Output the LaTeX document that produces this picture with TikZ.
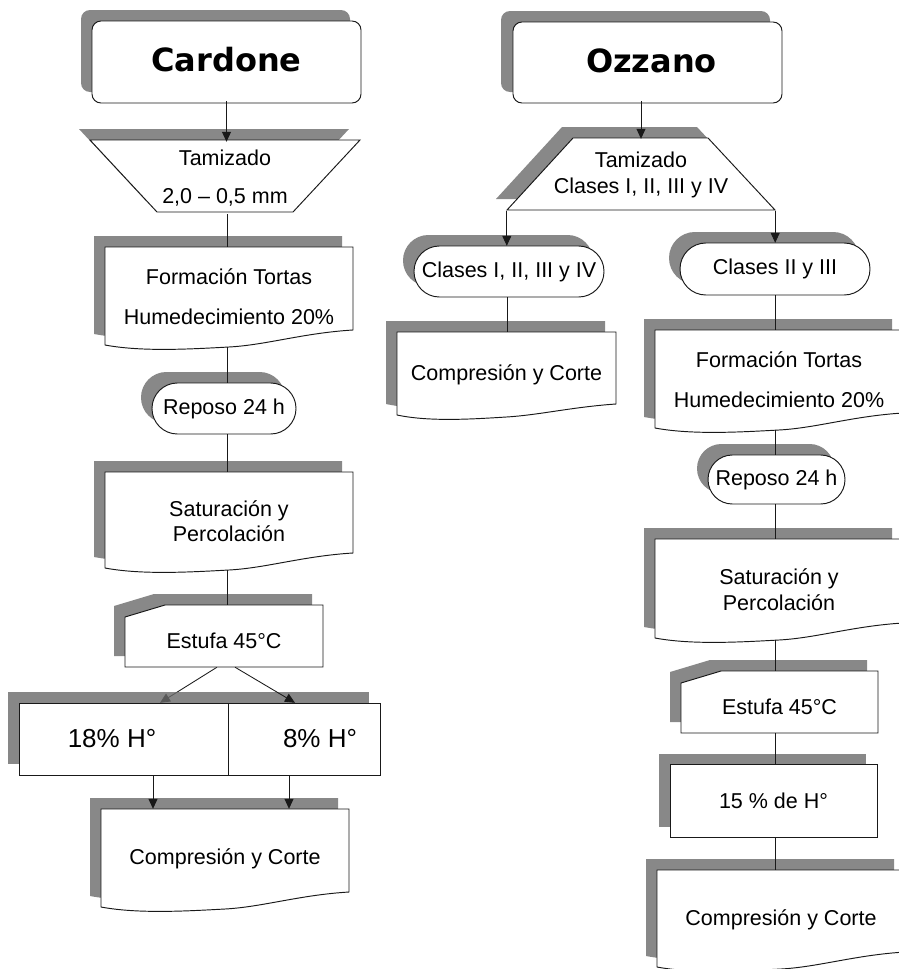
\documentclass[tikz,border=0pt]{standalone}
\usepackage{fontspec}
\setmainfont{Liberation Sans}
\newfontfamily\titlefont{DejaVu Sans}
\usetikzlibrary{arrows.meta}
\pgfdeclarelayer{under}\pgfdeclarelayer{bg}\pgfdeclarelayer{shp}
\pgfsetlayers{under,bg,shp,main}
\definecolor{shadowc}{RGB}{136,136,136}
\definecolor{shadowt}{RGB}{106,106,106}
\definecolor{linec}{RGB}{25,25,25}
\tikzset{
  shapeline/.style={draw=linec, line width=0.95pt, fill=white},
  conn/.style={draw=linec, line width=0.85pt},
  arr/.style={conn, -{Triangle[length=10pt,width=9pt]}},
  txt/.style={inner sep=0pt, align=center, shape=rectangle, font=\fontsize{21.5}{25.5}\selectfont},
  titletxt/.style={txt, font=\titlefont\bfseries\fontsize{32}{38}\selectfont},
  bigtxt/.style={txt, font=\fontsize{26}{30}\selectfont},
}
% document shape path: L T R Br Bl
\newcommand{\docpath}[5]{(#1,#2) -- (#3,#2) -- (#3,#4)
  .. controls ({#1+0.8*(#3-#1)},{#4+3}) and ({#1+0.65*(#3-#1)},{#5}) .. ({#1+0.5*(#3-#1)},{#5+2})
  .. controls ({#1+0.35*(#3-#1)},{#5+4}) and ({#1+0.15*(#3-#1)},{#5+7}) .. (#1,#5) -- cycle}
% name L T R Br Bl text
\newcommand{\DocBox}[7]{%
  \begin{pgfonlayer}{bg}\fill[shadowc,xshift=-11pt,yshift=11pt] \docpath{#2}{#3}{#4}{#5}{#6};\end{pgfonlayer}
  \begin{pgfonlayer}{shp}\filldraw[shapeline] \docpath{#2}{#3}{#4}{#5}{#6};\end{pgfonlayer}
  \pgfmathsetmacro\ww{#4-#2}\pgfmathsetmacro\hh{#6+2-#3}%
  \pgfmathsetmacro\cx{(#2+#4)/2}\pgfmathsetmacro\cy{(#3+#6+2)/2}%
  \node[txt, minimum width=\ww pt, minimum height=\hh pt] (#1) at (\cx,\cy) {#7};
}
% stadium: name L T R B text
\newcommand{\Stad}[6]{%
  \pgfmathsetmacro\rr{(#5-#3)/2-0.1}%
  \begin{pgfonlayer}{bg}\fill[shadowc,xshift=-11pt,yshift=11pt,rounded corners=\rr pt] (#2,#3) rectangle (#4,#5);\end{pgfonlayer}
  \begin{pgfonlayer}{shp}\filldraw[shapeline,rounded corners=\rr pt] (#2,#3) rectangle (#4,#5);\end{pgfonlayer}
  \pgfmathsetmacro\ww{#4-#2}\pgfmathsetmacro\hh{#5-#3}%
  \pgfmathsetmacro\cx{(#2+#4)/2}\pgfmathsetmacro\cy{(#3+#5)/2}%
  \node[txt, minimum width=\ww pt, minimum height=\hh pt] (#1) at (\cx,\cy) {#6};
}
% card (cut corner): name L T R B text
\newcommand{\CardBox}[6]{%
  \begin{pgfonlayer}{bg}\fill[shadowc,xshift=-11pt,yshift=11pt] ({#2},{#3+12}) -- ({#2+40},{#3}) -- (#4,#3) -- (#4,#5) -- (#2,#5) -- cycle;\end{pgfonlayer}
  \begin{pgfonlayer}{shp}\filldraw[shapeline] ({#2},{#3+12}) -- ({#2+40},{#3}) -- (#4,#3) -- (#4,#5) -- (#2,#5) -- cycle;\end{pgfonlayer}
  \pgfmathsetmacro\ww{#4-#2}\pgfmathsetmacro\hh{#5-#3}%
  \pgfmathsetmacro\cx{(#2+#4)/2}\pgfmathsetmacro\cy{(#3+#5)/2}%
  \node[txt, minimum width=\ww pt, minimum height=\hh pt, text height=25.7pt, text depth=0pt] (#1) at (\cx,\cy) {#6};
}
% plain box: name L T R B text
\newcommand{\PlainBox}[6]{%
  \begin{pgfonlayer}{bg}\fill[shadowc,xshift=-11pt,yshift=10pt] (#2,#3) rectangle (#4,#5);\end{pgfonlayer}
  \begin{pgfonlayer}{shp}\filldraw[shapeline] (#2,#3) rectangle (#4,#5);\end{pgfonlayer}
  \pgfmathsetmacro\ww{#4-#2}\pgfmathsetmacro\hh{#5-#3}%
  \pgfmathsetmacro\cx{(#2+#4)/2}\pgfmathsetmacro\cy{(#3+#5)/2}%
  \node[txt, minimum width=\ww pt, minimum height=\hh pt] (#1) at (\cx,\cy) {#6};
}
\begin{document}
\begin{tikzpicture}[x=1pt,y=-1pt]
\useasboundingbox (0,0) rectangle (898,969);
\begin{pgfonlayer}{under}\fill[white] (0,0) rectangle (898,969);\end{pgfonlayer}
\coordinate (lc) at (227,0);
\coordinate (mc) at (507,0);
\coordinate (rc) at (775,0);

% ---------------- Cardone column
\begin{pgfonlayer}{bg}\fill[shadowc,rounded corners=9pt] (81,10) rectangle (350,92);\end{pgfonlayer}
\begin{pgfonlayer}{shp}\filldraw[shapeline,rounded corners=9pt] (92,21) rectangle (361,103);\end{pgfonlayer}
\node[titletxt, minimum width=269pt, minimum height=82pt] (card) at (226.5,60) {Cardone};

\begin{pgfonlayer}{bg}\fill[shadowc] (79,129) -- (349,129) -- (282,201) -- (146,201) -- cycle;\end{pgfonlayer}
\begin{pgfonlayer}{shp}\filldraw[shapeline] (90,140) -- (360,140) -- (293,212) -- (157,212) -- cycle;\end{pgfonlayer}
\node[txt, minimum width=270pt, minimum height=72pt] (tz1) at (225,178) {Tamizado\\[12.5pt]2,0 – 0,5 mm};
\draw[arr] (card.south) -- (card.south |- tz1.north);

\DocBox{form1}{105}{247}{353}{330}{345}{Formación Tortas\\[14.5pt]Humedecimiento 20\%}
\draw[conn] (tz1.south -| lc) -- (form1.north -| lc);

\Stad{rep1}{152}{383}{296}{434}{Reposo 24 h}
\draw[conn] (form1.south -| lc) -- (rep1.north -| lc);

\DocBox{sat1}{105}{472}{353}{553}{568}{Saturación y\\Percolación}
\draw[conn] (rep1.south -| lc) -- (sat1.north -| lc);

\CardBox{est1}{125}{605}{323}{667}{Estufa 45°C}
\draw[conn] (sat1.south -| lc) -- (est1.north -| lc);

\begin{pgfonlayer}{bg}\fill[shadowt,fill opacity=0.8] (8,692) rectangle (369,764);\end{pgfonlayer}
\begin{pgfonlayer}{shp}
\filldraw[shapeline] (19,703) rectangle (228,775);
\filldraw[shapeline] (228,703) rectangle (380,775);
\end{pgfonlayer}
\node[bigtxt, minimum width=209pt, minimum height=72pt] (h18) at (123.5,739) {18\% H°\hspace{23pt}};
\node[bigtxt, minimum width=152pt, minimum height=72pt] (h8) at (304,739) {\hspace{32pt}8\% H°};
\begin{pgfonlayer}{under}\draw[arr] ([xshift=-7pt]est1.south) -- ([xshift=36.5pt]h18.north);\end{pgfonlayer}
\draw[arr] ([xshift=11pt]est1.south) -- ([xshift=-9pt]h8.north);

\DocBox{comp1}{101}{809}{349}{892}{907}{Compresión y Corte}
\draw[arr] ([xshift=29.5pt]h18.south) -- ([xshift=29.5pt]h18.south |- comp1.north);
\draw[arr] ([xshift=-15pt]h8.south) -- ([xshift=-15pt]h8.south |- comp1.north);

% ---------------- Ozzano column
\begin{pgfonlayer}{bg}\fill[shadowc,rounded corners=9pt] (501,11) rectangle (770,92);\end{pgfonlayer}
\begin{pgfonlayer}{shp}\filldraw[shapeline,rounded corners=9pt] (513,22) rectangle (782,103);\end{pgfonlayer}
\node[titletxt, minimum width=269pt, minimum height=81pt] (ozz) at (647.5,60.5) {\hspace{8pt}Ozzano};

\begin{pgfonlayer}{bg}\fill[shadowc] (562,127) -- (697,127) -- (764,199) -- (496,199) -- cycle;\end{pgfonlayer}
\begin{pgfonlayer}{shp}\filldraw[shapeline] (573,138) -- (708,138) -- (775,210) -- (507,210) -- cycle;\end{pgfonlayer}
\node[txt, minimum width=268pt, minimum height=72pt] (tz2) at (641,175) {Tamizado\\Clases I, II, III y IV};
\draw[arr] (tz2.north |- ozz.south) -- (tz2.north);

\Stad{clas1}{414}{246}{604}{297}{Clases I, II, III y IV}
\Stad{clas2}{680}{243}{870}{295}{Clases II y III}
\draw[arr] (tz2.south west) -- (tz2.south west |- clas1.north);
\draw[arr] (tz2.south east) -- (tz2.south east |- clas2.north);

\DocBox{comp2}{397}{332}{616}{404}{415}{Compresión y Corte}
\draw[conn] (clas1.south -| mc) -- (comp2.north -| mc);

\DocBox{form2}{655}{330}{903}{413}{428}{Formación Tortas\\[14.5pt]Humedecimiento 20\%}
\draw[conn] (clas2.south -| rc) -- (form2.north -| rc);

\Stad{rep2}{708}{455}{845}{504}{Reposo 24 h}
\draw[conn] (form2.south -| rc) -- (rep2.north -| rc);

\DocBox{sat2}{655}{539}{903}{623}{638}{Saturación y\\Percolación}
\draw[conn] (rep2.south -| rc) -- (sat2.north -| rc);

\CardBox{est2}{681}{671}{878}{733}{Estufa 45°C}
\draw[conn] (sat2.south -| rc) -- (est2.north -| rc);

\PlainBox{h15}{670}{764}{877}{837}{15 \% de H°}
\draw[conn] (est2.south -| rc) -- (h15.north -| rc);

\DocBox{comp3}{657}{870}{905}{952}{967}{Compresión y Corte}
\draw[conn] (h15.south -| rc) -- (comp3.north -| rc);
\end{tikzpicture}
\end{document}
